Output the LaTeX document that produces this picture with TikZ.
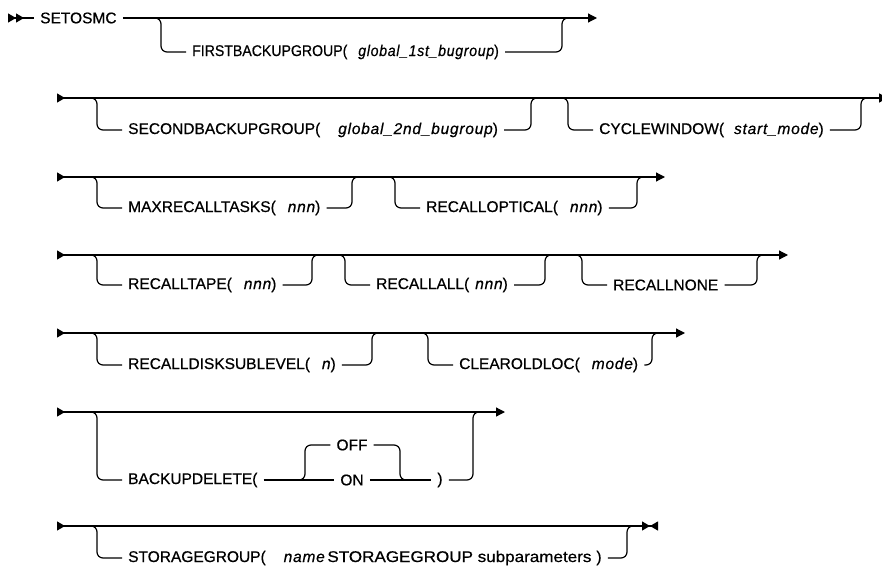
\documentclass[tikz,border=0pt]{standalone}
\usepackage{fontspec}
\setmainfont{Liberation Sans}[FakeBold=0.6]
\newfontfamily\varfamily{Liberation Sans}[LetterSpace=5, FakeBold=0.6]
\newcommand{\vname}[1]{{\varfamily\itshape #1}}
\usetikzlibrary{arrows.meta,calc}

\begin{document}
\begin{tikzpicture}[x=1pt, y=-1pt,
  every node/.style={font=\fontsize{15.5}{18}\selectfont, inner ysep=2pt, inner xsep=6pt},
  rail/.style={line width=1.2pt, rounded corners=6pt},
  row/.style={rail, {Triangle[reversed, length=8pt, width=9pt]}-{Triangle[length=9pt, width=9pt]}},
  opt/.style={anchor=west}]
\useasboundingbox (0,0) rectangle (882,567);
% row 1
\coordinate (begin) at (8,18);
\node[opt] (cmd) at (34,18) {SETOSMC};
\draw[rail, {Triangle[reversed, length=8pt, width=9pt] Triangle[reversed, length=8pt, width=9pt]}-] (begin) -- (cmd.west);
\coordinate (r1e) at (597,18);
\draw[rail, -{Triangle[length=9pt, width=9pt]}] (cmd.east) -- (r1e);
% rows 2 to 7
\foreach \r/\ya/\xe in {2/98/888, 3/177/665, 4/255/788, 5/333/685, 6/412/505} {
  \coordinate (r\r s) at (57,\ya);
  \coordinate (r\r e) at (\xe,\ya);
  \draw[row] (r\r s) -- (r\r e);
}
\coordinate (r7s) at (57,526);
\coordinate (r7e) at (658,526);
\draw[rail, {Triangle[reversed, length=8pt, width=9pt]}-{Triangle[length=8pt, width=9pt] Triangle[reversed, length=8pt, width=9pt]}] (r7s) -- (r7e);
% optional branches
\foreach \nm/\xa/\xe/\ya/\yb/\txt in {
  first/161/562/18/52/{\scalebox{0.91}[1]{FIRSTBACKUPGROUP(\hspace{12pt}\vname{global\_1st\_bugroup})}},
  second/97/531/98/130/{SECONDBACKUPGROUP(\hspace{18pt}\vname{global\_2nd\_bugroup})},
  cycle/568/861/98/130/{CYCLEWINDOW(\hspace{10pt}\vname{start\_mode})},
  maxtasks/97/352/177/208/{MAXRECALLTASKS(\hspace{12pt}\vname{nnn})},
  optical/395/637/177/208/{RECALLOPTICAL(\hspace{12pt}\vname{nnn})},
  tape/97/312/255/285/{RECALLTAPE(\hspace{12pt}\vname{nnn})},
  all/345/545/255/285/{RECALLALL(\hspace{6pt}\vname{nnn})},
  none/582/757/255/285/{RECALLNONE},
  sublevel/97/372/333/365/{RECALLDISKSUBLEVEL(\hspace{12pt}\vname{n})},
  oldloc/428/652/333/365/{CLEAROLDLOC(\hspace{12pt}\vname{mode})},
  storage/97/627/526/558/{STORAGEGROUP(\hspace{18pt}\vname{name}\,\scalebox{1.1}[1]{STORAGEGROUP subparameters}\hspace{5pt})}} {
  \node[opt] (\nm) at (\xa+25,\yb) {\txt};
  \coordinate (\nm a) at (\xa,\ya);
  \coordinate (\nm b) at (\xe,\ya);
  \draw[rail] ($(\nm a)+(-8,0)$) -- (\nm a) |- (\nm.west);
  \draw[rail] (\nm.east) -| (\nm b) -- ++(8,0);
}
% BACKUPDELETE with OFF / ON
\node[opt] (bkdel) at (122,480) {BACKUPDELETE(\hspace{9pt}};
\node (on) at (352,480) {ON};
\node (off) at (352,445) {OFF};
\node (rp) at (440,480) {)};
\coordinate (bkdela) at (97,412);
\coordinate (bkdelb) at (473,412);
\coordinate (onl) at (305,480);
\coordinate (onr) at (400,480);
\draw[rail] ($(bkdela)+(-8,0)$) -- (bkdela) |- (bkdel.west);
\draw[rail] (bkdel.east) -- (on.west);
\draw[rail] (on.east) -- (rp.west);
\draw[rail] ($(onl)+(-8,0)$) -- (onl) |- (off.west);
\draw[rail] (off.east) -| (onr) -- ++(8,0);
\draw[rail] (rp.east) -| (bkdelb) -- ++(8,0);
\end{tikzpicture}
\end{document}
